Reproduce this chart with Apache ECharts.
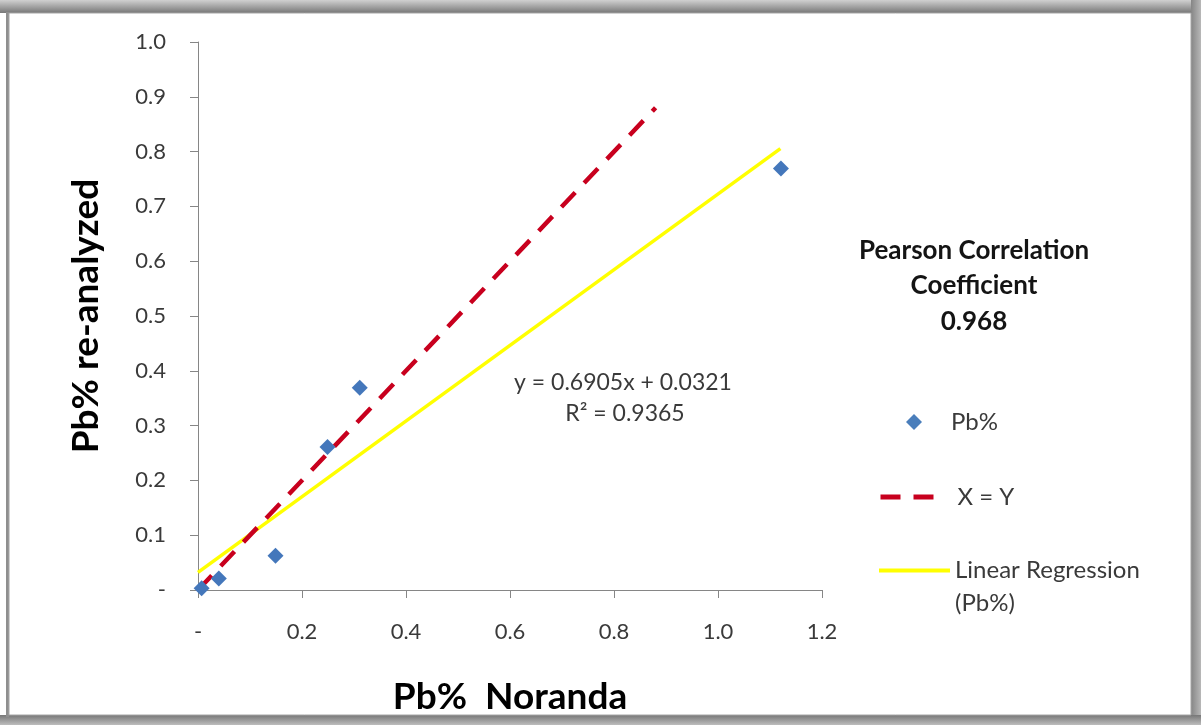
<!DOCTYPE html>
<html>
<head>
<meta charset="utf-8">
<script src="https://cdn.jsdelivr.net/npm/echarts@6/dist/echarts.min.js"></script>
<style>
html,body{margin:0;padding:0;background:#fff;}
#chart{width:1201px;height:725px;}
</style>
</head>
<body>
<div id="chart"></div>
<script>
// ---- data ----
var norandaPb = [0.007, 0.040, 0.149, 0.249, 0.311, 1.121];
var reanalyzedPb = [0.003, 0.021, 0.0625, 0.261, 0.369, 0.769];
var identityX = [0, 0.88];
var identityY = [0, 0.88];
var regressionX = [0, 1.12];
var regressionY = [0.0321, 0.8055];
var xTickLabels = ['-', '0.2', '0.4', '0.6', '0.8', '1.0', '1.2'];
var yTickLabels = ['-', '0.1', '0.2', '0.3', '0.4', '0.5', '0.6', '0.7', '0.8', '0.9', '1.0'];
var equationLines = ['y = 0.6905x + 0.0321', 'R\u00b2 = 0.9365'];
var pearsonLines = ['Pearson Correlation', 'Coefficient', '0.968'];

function pairs(xs, ys) { return xs.map(function (x, i) { return [x, ys[i]]; }); }

var FONT = 'Lato, "Open Sans", sans-serif';
var TXT = '#3a3a3a';
var NOSYM = {color: 'rgba(0,0,0,0)', borderWidth: 0, borderColor: 'rgba(0,0,0,0)'};

var chart = echarts.init(document.getElementById('chart'), null, {renderer: 'canvas'});
var option = {
  backgroundColor: '#ffffff',
  animation: false,
  textStyle: {fontFamily: FONT},
  grid: {left: 198, right: 379, top: 42, bottom: 135, containLabel: false},
  xAxis: {
    type: 'value', min: 0, max: 1.2, interval: 0.2,
    name: 'Pb%  Noranda', nameLocation: 'middle', nameGap: 89,
    nameTextStyle: {fontFamily: FONT, fontWeight: 'bold', fontSize: 37, color: '#000'},
    axisLine: {show: true, lineStyle: {color: '#868686', width: 1}},
    axisTick: {show: true, inside: false, length: 8, lineStyle: {color: '#868686'}},
    splitLine: {show: false},
    axisLabel: {margin: 31, fontSize: 22, color: TXT, fontFamily: FONT,
      formatter: function (v) { return xTickLabels[Math.round(v / 0.2)]; }}
  },
  yAxis: {
    type: 'value', min: 0, max: 1, interval: 0.1,
    name: 'Pb% re-analyzed', nameLocation: 'middle', nameGap: 93, nameRotate: 90,
    nameTextStyle: {fontFamily: FONT, fontWeight: 'bold', fontSize: 37, color: '#000'},
    axisLine: {show: true, lineStyle: {color: '#868686', width: 1}},
    axisTick: {show: true, inside: false, length: 8, lineStyle: {color: '#868686'}},
    splitLine: {show: false},
    axisLabel: {margin: 32, fontSize: 22, color: TXT, fontFamily: FONT,
      formatter: function (v) { return yTickLabels[Math.round(v * 10)]; }}
  },
  legend: [
    {
      data: ['Pb%'], orient: 'vertical', left: 901, top: 403,
      itemWidth: 16, itemHeight: 16,
      formatter: function (n) { return '{a|' + n + '}'; },
      itemStyle: {color: '#4a7ebb', opacity: 1},
      textStyle: {fontSize: 24, color: TXT, fontFamily: FONT, lineHeight: 28,
        rich: {a: {fontSize: 24, color: TXT, fontFamily: FONT, lineHeight: 28, padding: [0, 0, 0, 24]}}}
    },
    {
      data: ['X = Y'], orient: 'vertical', left: 873, top: 478,
      itemWidth: 57, itemHeight: 14,
      formatter: function (n) { return '{a|' + n + '}'; },
      itemStyle: NOSYM,
      lineStyle: {color: '#c8001e', width: 5, type: [20, 13]},
      textStyle: {fontSize: 24, color: TXT, fontFamily: FONT, lineHeight: 28,
        rich: {a: {fontSize: 24, color: TXT, fontFamily: FONT, lineHeight: 28, padding: [0, 0, 0, 15]}}}
    },
    {
      data: ['Linear Regression (Pb%)'], orient: 'vertical', left: 872, top: 516,
      itemWidth: 71, itemHeight: 14,
      formatter: function () { return '{p| }\n{a|Linear Regression}\n{a|(Pb%)}'; },
      itemStyle: NOSYM,
      lineStyle: {color: '#ffff00', width: 4, type: 'solid'},
      textStyle: {fontSize: 24, color: TXT, fontFamily: FONT, lineHeight: 33,
        rich: {
          p: {fontSize: 24, lineHeight: 33, fontFamily: FONT},
          a: {fontSize: 24, color: TXT, fontFamily: FONT, lineHeight: 33}
        }}
    }
  ],
  graphic: [
    // window frame / shadow
    {type: 'rect', z: -20, shape: {x: 0, y: 0, width: 1201, height: 13},
      style: {fill: new echarts.graphic.LinearGradient(0, 0, 0, 1, [
        {offset: 0, color: '#d0d0d0'}, {offset: 1, color: '#777777'}])}},
    {type: 'rect', z: -20, shape: {x: 1191, y: 0, width: 10, height: 725},
      style: {fill: new echarts.graphic.LinearGradient(0, 0, 1, 0, [
        {offset: 0, color: '#858585'}, {offset: 1, color: '#b8b8b8'}])}},
    {type: 'rect', z: -20, shape: {x: 0, y: 715, width: 1201, height: 10},
      style: {fill: new echarts.graphic.LinearGradient(0, 0, 0, 1, [
        {offset: 0, color: '#777777'}, {offset: 1, color: '#bdbdbd'}])}},
    {type: 'rect', z: -20, shape: {x: 6, y: 12, width: 3, height: 705},
      style: {fill: '#8f8f8f'}},
    {type: 'rect', z: -15, shape: {x: 9, y: 13, width: 1182, height: 702},
      style: {fill: '#ffffff', stroke: '#a6a6a6', lineWidth: 1}},
    // Pearson annotation
    {type: 'text', z: 10, x: 974, y: 251,
      style: {text: pearsonLines[0], textAlign: 'center', textVerticalAlign: 'middle',
        font: 'bold 26px ' + FONT, fill: '#141414'}},
    {type: 'text', z: 10, x: 974, y: 286,
      style: {text: pearsonLines[1], textAlign: 'center', textVerticalAlign: 'middle',
        font: 'bold 26px ' + FONT, fill: '#141414'}},
    {type: 'text', z: 10, x: 974, y: 322,
      style: {text: pearsonLines[2], textAlign: 'center', textVerticalAlign: 'middle',
        font: 'bold 26px ' + FONT, fill: '#141414'}},
    // regression equation
    {type: 'text', z: 10, x: 623, y: 383,
      style: {text: equationLines[0], textAlign: 'center', textVerticalAlign: 'middle',
        font: '23px ' + FONT, fill: TXT}},
    {type: 'text', z: 10, x: 625, y: 414,
      style: {text: equationLines[1], textAlign: 'center', textVerticalAlign: 'middle',
        font: '23px ' + FONT, fill: TXT}}
  ],
  series: [
    {
      name: 'Linear Regression (Pb%)', type: 'line', z: 2,
      data: pairs(regressionX, regressionY),
      symbol: 'none', showSymbol: false,
      lineStyle: {color: '#ffff00', width: 3.5},
      itemStyle: {color: '#ffff00'}
    },
    {
      name: 'X = Y', type: 'line', z: 3,
      data: pairs(identityX, identityY),
      symbol: 'none', showSymbol: false,
      lineStyle: {color: '#c8001e', width: 4.5, type: [20, 13]},
      itemStyle: {color: '#c8001e'}
    },
    {
      name: 'Pb%', type: 'scatter', z: 4,
      data: pairs(norandaPb, reanalyzedPb),
      symbol: 'diamond', symbolSize: [16, 16],
      itemStyle: {color: '#4477bb', opacity: 1}
    }
  ]
};
chart.setOption(option);
</script>
</body>
</html>
